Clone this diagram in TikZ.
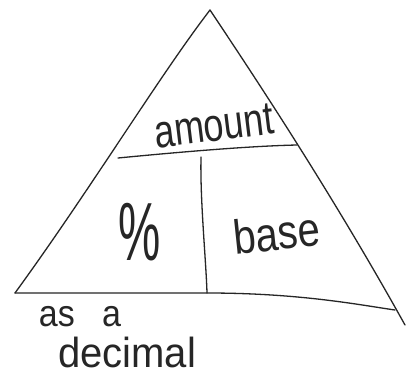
\documentclass[tikz,border=0pt]{standalone}
\usepackage{fontspec}
\setmainfont{Liberation Sans}
\begin{document}
\begin{tikzpicture}[x=1pt,y=-1pt,
  pen/.style={line width=1.3pt,draw=black!85,line cap=round,line join=round},
  hand/.style={text=black!85,inner sep=0pt,anchor=center}]
\useasboundingbox[fill=white] (0,0) rectangle (412,375);
% coordinates
\coordinate (apex) at (210,10);
\coordinate (bl) at (15,293);
\coordinate (bm) at (207,293);
\coordinate (br) at (395,310);
\coordinate (brx) at (405,325);
\coordinate (ml) at (118,158);
\coordinate (mr) at (297,145);
\coordinate (mv) at (201,157);
% triangle
\draw[pen] (bl) .. controls (90,190) and (160,75) .. (apex);
\draw[pen] (apex) .. controls (250,70) and (330,190) .. (brx);
\draw[pen] (bl) -- (bm) .. controls (300,293) and (360,305) .. (br);
% dividers
\draw[pen] (ml) .. controls (180,152) and (250,146) .. (mr);
\draw[pen] (mv) .. controls (200,200) and (206,260) .. (bm);
% texts
\node[hand,font=\fontsize{36}{36}\selectfont,rotate=7] (amount) at (214,126) {\scalebox{1}[1.3]{amount}};
\node[hand,font=\fontsize{50}{50}\selectfont] (pct) at (140,232) {\scalebox{0.95}[1.65]{\%}};
\node[hand,font=\fontsize{40}{40}\selectfont,rotate=6] (base) at (277,233) {\scalebox{1}[1.2]{base}};
\node[hand,font=\fontsize{34}{34}\selectfont] (asa) at (80,317) {\scalebox{1}[1.1]{as\hspace{0.8em}a}};
\node[hand,font=\fontsize{40}{40}\selectfont] (dec) at (127,352) {\scalebox{1}[1.05]{decimal}};
\end{tikzpicture}
\end{document}
